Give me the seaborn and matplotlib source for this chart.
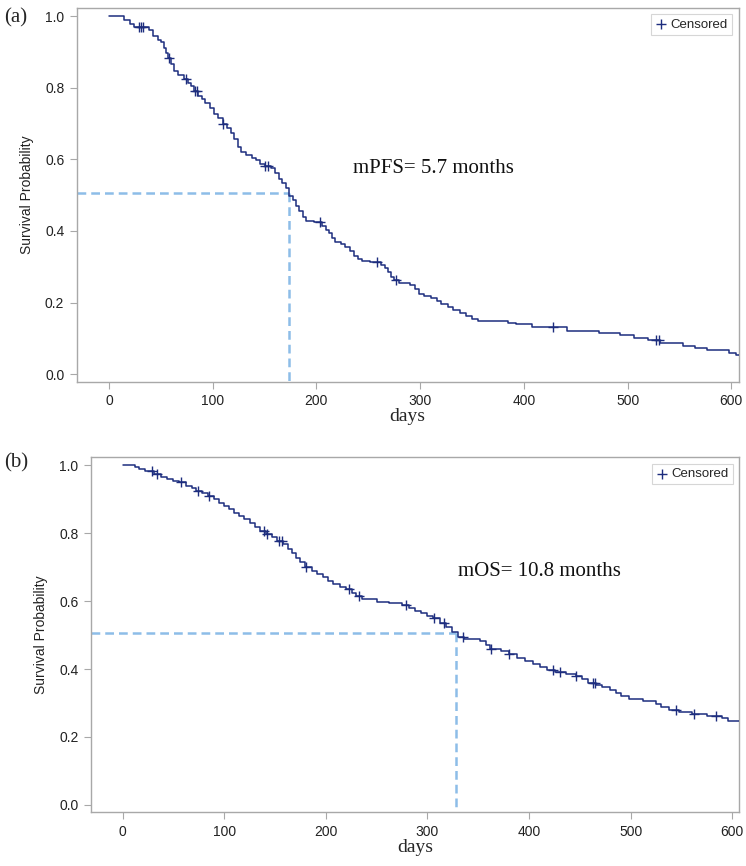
import numpy as np
import pandas as pd
import matplotlib.pyplot as plt
import seaborn as sns

# PFS Kaplan-Meier steps (day of drop, survival after drop)
pfs_days = [0, 14, 20, 24, 39, 42, 47, 50, 53, 55, 57, 60, 63, 67, 72, 76, 79, 82, 86, 90,
            93, 97, 101, 105, 110, 114, 118, 121, 124, 127, 132, 138, 142, 146, 150, 156, 160,
            164, 167, 171, 174, 177, 180, 183, 187, 190, 198, 205, 209, 212, 215, 218, 224,
            228, 232, 236, 240, 244, 252, 262, 266, 269, 272, 275, 280, 290, 295, 299, 304,
            310, 316, 320, 327, 332, 338, 344, 350, 356, 385, 392, 408, 442, 472, 493, 506,
            520, 531, 553, 565, 577, 598, 605, 607]
pfs_surv = [1.0, 0.990, 0.980, 0.969, 0.961, 0.946, 0.935, 0.928, 0.912, 0.898, 0.885, 0.866,
            0.848, 0.835, 0.826, 0.815, 0.804, 0.790, 0.778, 0.768, 0.758, 0.744, 0.728, 0.715,
            0.700, 0.688, 0.675, 0.658, 0.635, 0.622, 0.612, 0.604, 0.598, 0.588, 0.581, 0.575,
            0.562, 0.546, 0.535, 0.519, 0.498, 0.486, 0.470, 0.455, 0.440, 0.427, 0.424, 0.414,
            0.404, 0.394, 0.380, 0.368, 0.363, 0.355, 0.344, 0.331, 0.322, 0.316, 0.312, 0.305,
            0.296, 0.285, 0.272, 0.262, 0.255, 0.250, 0.238, 0.224, 0.219, 0.213, 0.203, 0.195,
            0.188, 0.178, 0.170, 0.161, 0.155, 0.149, 0.143, 0.140, 0.132, 0.120, 0.116, 0.110,
            0.102, 0.095, 0.088, 0.079, 0.073, 0.066, 0.060, 0.054, 0.054]
pfs_censor = [29, 31, 33, 58, 74, 83, 85, 110, 150, 153, 203, 258, 277, 428, 527, 530]

# OS Kaplan-Meier steps
os_days = [0, 12, 16, 22, 31, 38, 44, 50, 56, 62, 68, 72, 78, 84, 90, 95, 100, 105, 110, 115,
           120, 125, 130, 135, 141, 147, 152, 158, 163, 167, 171, 175, 180, 186, 191, 197, 202,
           207, 214, 220, 226, 230, 236, 250, 262, 275, 282, 288, 294, 300, 306, 312, 318, 324,
           330, 336, 352, 358, 362, 372, 380, 388, 396, 404, 411, 418, 426, 436, 446, 452, 458,
           466, 472, 480, 486, 491, 498, 512, 525, 530, 538, 548, 560, 575, 590, 596, 607]
os_surv = [1.0, 0.994, 0.988, 0.983, 0.975, 0.966, 0.960, 0.955, 0.950, 0.940, 0.932, 0.925,
           0.918, 0.911, 0.900, 0.890, 0.880, 0.871, 0.860, 0.850, 0.841, 0.830, 0.818, 0.808,
           0.798, 0.788, 0.778, 0.768, 0.755, 0.742, 0.728, 0.715, 0.700, 0.690, 0.680, 0.672,
           0.660, 0.650, 0.642, 0.635, 0.625, 0.615, 0.605, 0.598, 0.594, 0.590, 0.580, 0.572,
           0.565, 0.557, 0.549, 0.537, 0.525, 0.510, 0.494, 0.490, 0.482, 0.470, 0.460, 0.452,
           0.444, 0.433, 0.423, 0.414, 0.406, 0.398, 0.392, 0.386, 0.380, 0.370, 0.360, 0.352,
           0.346, 0.338, 0.330, 0.320, 0.313, 0.305, 0.298, 0.288, 0.280, 0.274, 0.268, 0.262,
           0.255, 0.246, 0.246]
os_censor = [29, 34, 58, 74, 85, 139, 142, 154, 157, 181, 223, 233, 279, 307, 316, 335, 363,
             380, 424, 431, 446, 463, 465, 545, 562, 584]

median_days = [174, 328]
median_surv = 0.505
median_text = ['mPFS= 5.7 months', 'mOS= 10.8 months']
panel_tags = ['(a)', '(b)']
xticks = [0, 100, 200, 300, 400, 500, 600]
yticks = [0.0, 0.2, 0.4, 0.6, 0.8, 1.0]

sns.set_style('ticks')
plt.rcParams['font.family'] = ['Liberation Sans', 'DejaVu Sans']

navy = '#1d2d7e'
dash = '#8dbde8'
frame = '#a8a8a8'
xlim = (-31, 607)
ylim = (-0.022, 1.024)

fig = plt.figure(figsize=(7.46, 8.66), dpi=100)
ax_a = fig.add_axes([0.103, 0.559, 0.887, 0.432])
ax_b = fig.add_axes([0.122, 0.062, 0.869, 0.410])


def surv_at(days, surv, t):
    idx = np.searchsorted(days, t, side='right') - 1
    return np.array(surv)[idx]


def draw(ax, days, surv, cens, med, text, text_xy, tag, tag_y):
    df = pd.DataFrame({'days': days, 'surv': surv})
    sns.lineplot(data=df, x='days', y='surv', ax=ax, drawstyle='steps-post',
                 color=navy, lw=1.1, estimator=None, zorder=3)
    cdf = pd.DataFrame({'days': cens, 'surv': surv_at(days, surv, cens)})
    sns.scatterplot(data=cdf, x='days', y='surv', ax=ax, marker='+', color=navy,
                    s=45, linewidth=1.0, label='Censored', zorder=4)
    ax.plot([xlim[0], med], [median_surv, median_surv], ls=(0, (3.5, 2)), color=dash, lw=1.8, zorder=2)
    ax.plot([med, med], [median_surv, ylim[0]], ls=(0, (3.5, 2)), color=dash, lw=1.8, zorder=2)
    ax.text(text_xy[0], text_xy[1], text, fontsize=15, family='Liberation Serif',
            ha='center', va='center', color='#111111')

    ax.set_xlim(xlim)
    ax.set_ylim(ylim)
    ax.set_xticks(xticks)
    ax.set_yticks(yticks)
    ax.set_yticklabels([f'{v:.1f}' for v in yticks])
    ax.tick_params(direction='out', length=5, width=0.8, color=frame, labelsize=10,
                   labelcolor='#222222', pad=4)
    for sp in ax.spines.values():
        sp.set_visible(True)
        sp.set_color(frame)
        sp.set_linewidth(1.0)
    ax.set_xlabel('days', family='Liberation Serif', fontsize=14, labelpad=0)
    ax.set_ylabel('Survival Probability', fontsize=10, labelpad=8, color='#222222')
    leg = ax.legend(loc='upper right', frameon=True, fancybox=False, edgecolor='#cccccc',
                    fontsize=9.5, handletextpad=0.2, borderpad=0.3, handlelength=1.0,
                    borderaxespad=0.5)
    leg.get_frame().set_linewidth(0.8)
    fig.text(0.005, tag_y, tag, family='Liberation Serif', fontsize=15, va='center', ha='left')


draw(ax_a, pfs_days, pfs_surv, pfs_censor, median_days[0], median_text[0], (313, 0.575),
     panel_tags[0], 1 - 18 / 866)
draw(ax_b, os_days, os_surv, os_censor, median_days[1], median_text[1], (410, 0.687),
     panel_tags[1], 1 - 463 / 866)

fig.savefig('out.png', dpi=100)
